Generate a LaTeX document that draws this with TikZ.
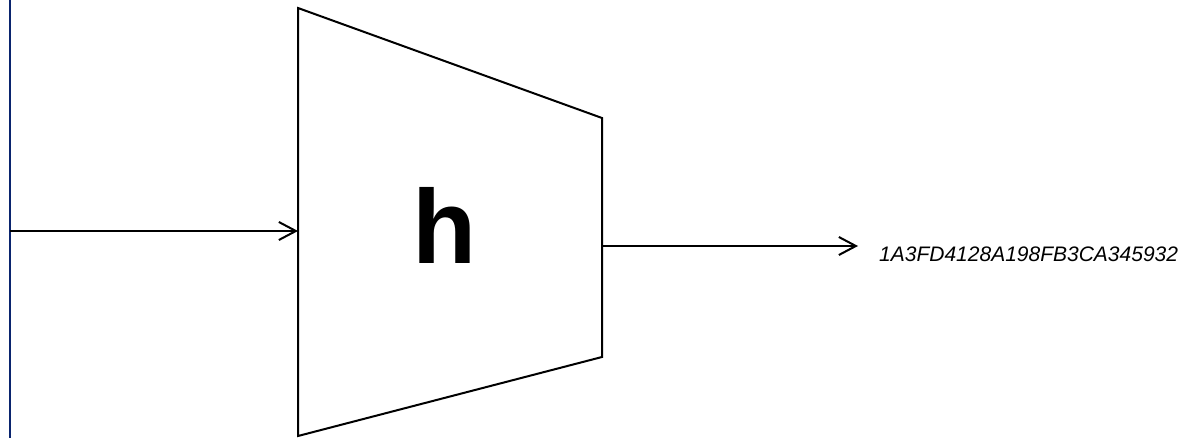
\documentclass[tikz,border=0pt]{standalone}
\usepackage{fontspec}
\setmainfont{Liberation Sans}
\usetikzlibrary{arrows.meta}
\definecolor{navyline}{RGB}{10,36,110}
\begin{document}
\begin{tikzpicture}[x=1pt,y=-1pt,
  edge/.style={line width=2pt,black},
  flow/.style={line width=2pt,black,-{Straight Barb[length=17pt,width=18pt,line width=2pt]}},
  hashtext/.style={font=\fontsize{21}{24}\selectfont\itshape,inner sep=0pt,anchor=base west},
  bigh/.style={font=\fontsize{105}{110}\selectfont\bfseries,inner sep=0pt}]
\useasboundingbox (0,0) rectangle (1194,438);
\fill[white] (0,0) rectangle (1194,438);
% left border line
\coordinate (bt) at (10,0);
\coordinate (bb) at (10,438);
\draw[line width=2.5pt,navyline] (bt) -- (bb);
% trapezoid
\coordinate (tl) at (298,8);
\coordinate (tr) at (602,118);
\coordinate (br) at (602,357);
\coordinate (bl) at (298,436);
\draw[edge,line join=miter] (tl) -- (tr) -- (br) -- (bl) -- cycle;
\node[bigh] (h) at (445,225) {h};
% arrows
\coordinate (in) at (10,231);
\coordinate (inend) at (298,231);
\draw[flow] (in) -- (inend);
\coordinate (out) at (602,246);
\coordinate (outend) at (858,246);
\draw[flow] (out) -- (outend);
\node[hashtext] (hash) at (879,262) {1A3FD4128A198FB3CA345932};
\end{tikzpicture}
\end{document}
